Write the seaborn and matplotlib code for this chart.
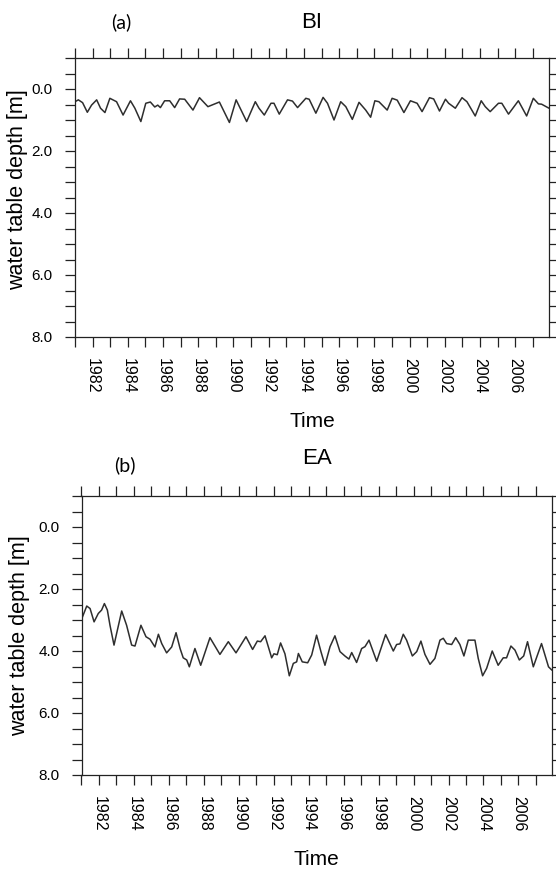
import matplotlib
matplotlib.use("Agg")
import matplotlib.pyplot as plt
import seaborn as sns
from matplotlib.ticker import FixedLocator, MultipleLocator, FormatStrFormatter

# values (decimal year, water table depth in m)
bi_time = [1981.00, 1981.19, 1981.43, 1981.70, 1981.94, 1982.23, 1982.45, 1982.70, 1982.98,
           1983.36, 1983.73, 1984.15, 1984.40, 1984.74, 1985.02, 1985.28, 1985.53, 1985.70,
           1985.85, 1986.09, 1986.38, 1986.66, 1986.94, 1987.23, 1987.70, 1988.07, 1988.55,
           1989.20, 1989.77, 1990.15, 1990.75, 1991.24, 1991.45, 1991.75, 1992.13, 1992.30,
           1992.60, 1993.07, 1993.35, 1993.64, 1994.11, 1994.30, 1994.68, 1995.09, 1995.34,
           1995.71, 1996.09, 1996.38, 1996.75, 1997.13, 1997.51, 1997.79, 1998.03, 1998.26,
           1998.73, 1999.01, 1999.30, 1999.68, 2000.05, 2000.43, 2000.71, 2001.13, 2001.37,
           2001.70, 2002.04, 2002.22, 2002.60, 2002.98, 2003.26, 2003.73, 2004.07, 2004.30,
           2004.58, 2005.05, 2005.24, 2005.62, 2006.18, 2006.65, 2007.03, 2007.32, 2007.50,
           2007.92]
bi_depth = [0.41, 0.35, 0.44, 0.75, 0.52, 0.35, 0.62, 0.76, 0.30,
            0.41, 0.84, 0.38, 0.62, 1.05, 0.46, 0.42, 0.58, 0.52,
            0.60, 0.38, 0.38, 0.60, 0.32, 0.33, 0.68, 0.28, 0.57,
            0.42, 1.08, 0.35, 1.05, 0.41, 0.62, 0.84, 0.46, 0.46,
            0.81, 0.35, 0.39, 0.60, 0.30, 0.33, 0.78, 0.27, 0.46,
            1.00, 0.41, 0.57, 0.98, 0.43, 0.68, 0.91, 0.38, 0.41,
            0.68, 0.30, 0.36, 0.76, 0.38, 0.46, 0.73, 0.28, 0.32,
            0.71, 0.33, 0.46, 0.62, 0.28, 0.41, 0.87, 0.38, 0.57,
            0.73, 0.46, 0.46, 0.81, 0.38, 0.87, 0.30, 0.48, 0.49,
            0.62]

ea_time = [1981.00, 1981.30, 1981.49, 1981.72, 1981.96, 1982.15, 1982.31, 1982.48, 1982.63,
           1982.86, 1983.30, 1983.58, 1983.87, 1984.06, 1984.40, 1984.69, 1984.92, 1985.20,
           1985.40, 1985.59, 1985.87, 1986.16, 1986.41, 1986.64, 1986.82, 1987.02, 1987.17,
           1987.49, 1987.82, 1988.35, 1988.92, 1989.40, 1989.84, 1990.41, 1990.79, 1991.06,
           1991.25, 1991.50, 1991.88, 1992.01, 1992.20, 1992.39, 1992.64, 1992.89, 1993.12,
           1993.31, 1993.41, 1993.63, 1993.94, 1994.17, 1994.45, 1994.70, 1994.93, 1995.22,
           1995.50, 1995.79, 1996.07, 1996.30, 1996.46, 1996.74, 1997.03, 1997.22, 1997.45,
           1997.89, 1998.40, 1998.84, 1999.03, 1999.22, 1999.41, 1999.60, 1999.93, 2000.18,
           2000.42, 2000.65, 2000.94, 2001.22, 2001.51, 2001.70, 2001.89, 2002.18, 2002.41,
           2002.65, 2002.88, 2003.13, 2003.51, 2003.70, 2003.95, 2004.18, 2004.50, 2004.84,
           2005.13, 2005.32, 2005.57, 2005.80, 2006.05, 2006.30, 2006.52, 2006.85, 2007.32,
           2007.72, 2007.92]
ea_depth = [2.98, 2.55, 2.63, 3.06, 2.79, 2.68, 2.47, 2.68, 3.17,
            3.81, 2.71, 3.17, 3.81, 3.84, 3.17, 3.54, 3.62, 3.87,
            3.46, 3.76, 4.06, 3.87, 3.41, 3.92, 4.22, 4.29, 4.51,
            3.92, 4.46, 3.57, 4.11, 3.70, 4.06, 3.54, 3.95, 3.68,
            3.70, 3.51, 4.22, 4.09, 4.12, 3.74, 4.09, 4.80, 4.40,
            4.35, 4.08, 4.35, 4.38, 4.13, 3.49, 4.02, 4.46, 3.86,
            3.51, 4.02, 4.16, 4.26, 4.05, 4.37, 3.92, 3.86, 3.65,
            4.33, 3.47, 4.00, 3.79, 3.77, 3.46, 3.65, 4.16, 4.02,
            3.68, 4.11, 4.43, 4.24, 3.65, 3.59, 3.76, 3.79, 3.57,
            3.79, 4.16, 3.65, 3.65, 4.24, 4.80, 4.56, 4.00, 4.46,
            4.22, 4.22, 3.84, 3.97, 4.29, 4.16, 3.70, 4.51, 3.76,
            4.51, 4.62]

label_years = list(range(1982, 2007, 2))
depth_ticks = [0.0, 2.0, 4.0, 6.0, 8.0]

sns.set_theme(style="ticks")
plt.rcParams['font.family'] = ['Liberation Sans', 'DejaVu Sans']
plt.rcParams['text.color'] = 'black'
plt.rcParams['axes.labelcolor'] = 'black'
plt.rcParams['xtick.color'] = 'black'
plt.rcParams['ytick.color'] = 'black'

W, H = 556, 869
fig = plt.figure(figsize=(W / 100, H / 100), dpi=100)


def draw_panel(box, time, depth, title, tag, title_xy, tag_xy, ylab_xy):
    left, top, right, bottom = box
    ax = fig.add_axes([left / W, 1 - bottom / H, (right - left) / W, (bottom - top) / H])
    sns.lineplot(x=time, y=depth, ax=ax, color="#2e2e2e", linewidth=1.1)
    ax.set_xlim(1981, 2007.92)
    ax.set_ylim(8, -1)
    ax.xaxis.set_major_locator(FixedLocator(label_years))
    ax.xaxis.set_minor_locator(MultipleLocator(1))
    ax.yaxis.set_major_locator(FixedLocator(depth_ticks))
    ax.yaxis.set_minor_locator(MultipleLocator(0.5))
    ax.yaxis.set_major_formatter(FormatStrFormatter('%.1f'))
    ax.tick_params(which='both', direction='out', length=7, width=0.9, color='#222222',
                   top=True, right=True, labeltop=False, labelright=False)
    ax.tick_params(axis='y', labelsize=11, pad=9)
    ax.tick_params(axis='x', labelsize=11.5, pad=8, labelrotation=270)
    for s in ax.spines.values():
        s.set_color('#222222')
        s.set_linewidth(0.9)
    ax.set_xlabel("Time", fontsize=15)
    ax.set_ylabel("water table depth [m]", fontsize=15.5)
    ax.xaxis.set_label_coords(0.5, -0.268)
    ax.yaxis.set_label_coords(*ylab_xy)
    fig.text(title_xy[0] / W, 1 - title_xy[1] / H, title, fontsize=16, ha='center', va='center')
    fig.text(tag_xy[0] / W, 1 - tag_xy[1] / H, tag, fontsize=14, ha='center', va='center',
             family=['Lato', 'DejaVu Sans'])
    return ax


draw_panel((75, 58, 549, 337), bi_time, bi_depth, "BI", "(a)", (312, 22), (121, 22), (-0.1, 0.527))
draw_panel((81.5, 496, 552, 775), ea_time, ea_depth, "EA", "(b)", (317, 458), (125, 465), (-0.11, 0.5))

fig.savefig("out.png", dpi=100, facecolor="white")
